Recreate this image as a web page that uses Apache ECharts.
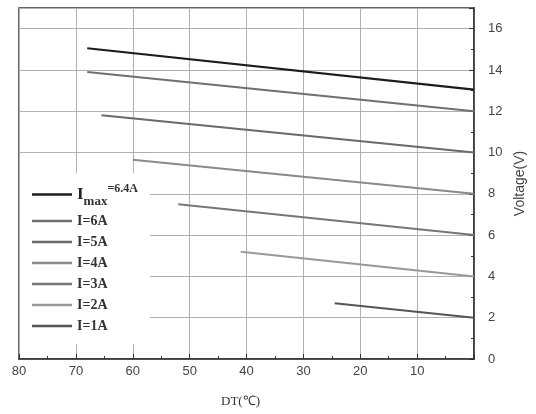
<!DOCTYPE html>
<html><head><meta charset="utf-8">
<script src="https://cdn.jsdelivr.net/npm/echarts@6/dist/echarts.min.js"></script>
<style>html,body{margin:0;padding:0;background:#fff}#c{width:536px;height:414px}</style>
</head><body><div id="c"></div>
<script>
const seriesNames = ['Imax=6.4A', 'I=6A', 'I=5A', 'I=4A', 'I=3A', 'I=2A', 'I=1A'];
const dtStart = [68, 68, 65.5, 60, 52, 41, 24.5];
const vStart = [15.05, 13.9, 11.8, 9.65, 7.5, 5.2, 2.7];
const dtEnd = [0, 0, 0, 0, 0, 0, 0];
const vEnd = [13.05, 12.0, 10.0, 8.0, 6.0, 4.0, 2.0];
const xTicks = [80, 70, 60, 50, 40, 30, 20, 10];
const yTicks = [0, 2, 4, 6, 8, 10, 12, 14, 16];
const colors = ['#1c1c1c', '#707070', '#6a6a6a', '#8a8a8a', '#777777', '#999999', '#555555'];

const chart = echarts.init(document.getElementById('c'));
const series = seriesNames.map((n, i) => ({
  name: n, type: 'line', symbol: 'none', smooth: false,
  lineStyle: { color: colors[i], width: i === 0 ? 2.2 : 2 },
  itemStyle: { color: colors[i] },
  data: [[dtStart[i], vStart[i]], [dtEnd[i], vEnd[i]]]
}));
chart.setOption({
  backgroundColor: '#fff',
  animation: false,
  grid: { left: 19, right: 62, top: 8, bottom: 55, show: true, borderColor: '#333', borderWidth: 1.5, backgroundColor: 'transparent' },
  xAxis: {
    type: 'value', inverse: true, min: 0, max: 80, interval: 10,
    name: 'DT(℃)', nameLocation: 'middle', nameGap: 36,
    nameTextStyle: { fontFamily: 'Liberation Serif', fontSize: 13, color: '#333', padding: [0, 12, 0, 0] },
    axisLine: { lineStyle: { color: '#333', width: 1.5 } },
    axisTick: { inside: true, length: 5, lineStyle: { color: '#333' } },
    minorTick: { show: true, splitNumber: 2, length: 3, lineStyle: { color: '#333' } },
    axisLabel: { fontFamily: 'Liberation Sans', fontSize: 13, color: '#444', margin: 6,
      formatter: v => xTicks.includes(v) ? String(v) : '' },
    splitLine: { show: true, lineStyle: { color: '#b0b0b0', width: 1 } }
  },
  yAxis: {
    type: 'value', position: 'right', min: 0, max: 17, interval: 2,
    name: 'Voltage(V)', nameLocation: 'middle', nameGap: 35, nameRotate: 90,
    nameTextStyle: { fontFamily: 'Liberation Sans', fontSize: 14, color: '#444' },
    axisLine: { show: true, lineStyle: { color: '#333', width: 1.5 } },
    axisTick: { inside: true, length: 5, lineStyle: { color: '#333' } },
    minorTick: { show: true, splitNumber: 2, length: 3, lineStyle: { color: '#333' } },
    axisLabel: { fontFamily: 'Liberation Sans', fontSize: 13, color: '#444', margin: 14, showMaxLabel: false,
      formatter: v => yTicks.includes(v) ? String(v) : '' },
    splitLine: { show: true, lineStyle: { color: '#b0b0b0', width: 1 } }
  },
  legend: {
    orient: 'vertical', left: 20, top: 173,
    backgroundColor: '#fff', padding: [8, 12, 10, 12],
    icon: 'rect', itemWidth: 40, itemHeight: 2.5, itemGap: 5,
    textStyle: { fontFamily: 'Liberation Serif', fontWeight: 'bold', fontSize: 14, color: '#333', lineHeight: 16,
      rich: {
        big: { fontFamily: 'Liberation Serif', fontWeight: 'bold', fontSize: 17, color: '#222', lineHeight: 20 },
        sub: { fontFamily: 'Liberation Serif', fontWeight: 'bold', fontSize: 13, color: '#333', lineHeight: 20, padding: [14, 0, 0, 0] },
        sup: { fontFamily: 'Liberation Serif', fontWeight: 'bold', fontSize: 12, color: '#333', lineHeight: 20, padding: [0, 0, 12, 0] }
      } },
    formatter: n => n === 'Imax=6.4A' ? '{big|I}{sub|max}{sup|=6.4A}' : n,
    data: seriesNames
  },
  series: series
});
</script></body></html>
